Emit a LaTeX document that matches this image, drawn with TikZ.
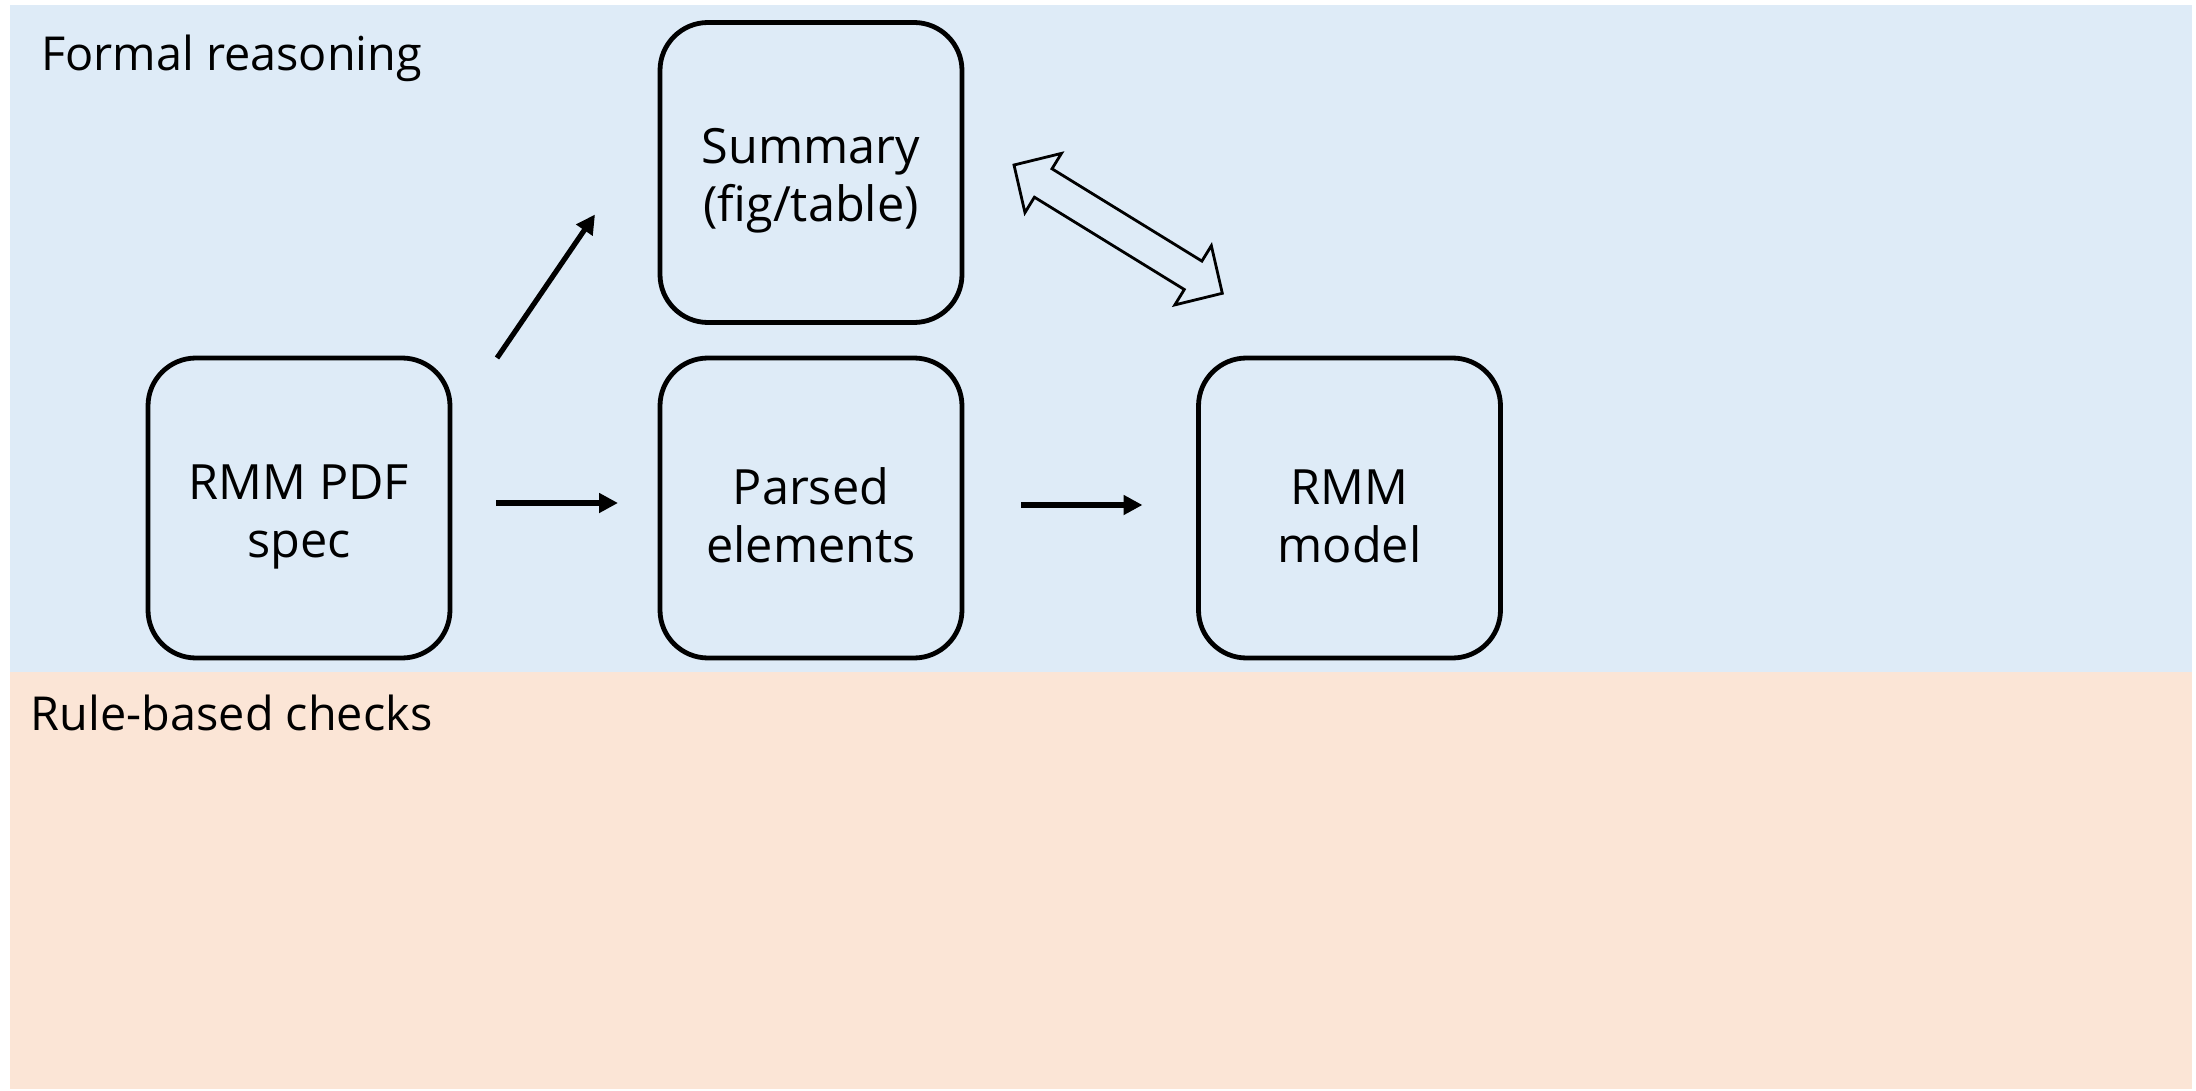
\documentclass[tikz,border=0pt]{standalone}
\usepackage{fontspec}
\setmainfont{Open Sans}
\usetikzlibrary{arrows.meta,calc}
\definecolor{formalbg}{HTML}{DEEBF7}
\definecolor{rulebg}{HTML}{FBE5D6}
\begin{document}
\begin{tikzpicture}[x=0.5pt,y=-0.5pt,
  stage/.style={draw=black, line width=2.4pt, rounded corners=24pt,
    minimum width=151pt, minimum height=150pt, align=center,
    font=\fontsize{24.3}{29}\selectfont, inner sep=0pt, outer sep=0pt,
    text height=55pt},
  flow/.style={line width=2.6pt, -{Triangle[length=9.5pt,width=9.5pt]}},
  lane/.style={anchor=base west, inner sep=0pt, outer sep=0pt,
    font=\fontsize{23.4}{29}\selectfont},
  blockarrow/.style={draw=black, line width=1.4pt, line join=miter}]
\useasboundingbox (0,0) rectangle (2196,1091);

% swim lanes
\fill[formalbg] (10,5) rectangle (2192,672);
\fill[rulebg] (10,672) rectangle (2192,1089);
\node[lane] (formal) at (41,71) {Formal reasoning};
\node[lane] (rules) at (31,730) {Rule-based checks};

% stages
\node[stage] (spec) at (299,508) {RMM PDF\\spec};
\node[stage] (summary) at (811,172.5) {Summary\\(fig/table)};
\node[stage] (parsed) at (811,508) {Parsed\\elements};
\node[stage] (model) at (1349.5,508) {RMM\\model};

% flows
\draw[flow] ($(spec.north east)+(47,0)$) -- ($(summary.south west)+(-65,-108)$);
\draw[flow] ($(spec.east)+(46,-5)$) -- ($(parsed.west)+(-42,-5)$);
\draw[flow] ($(parsed.east)+(59,-3)$) -- ($(model.west)+(-56,-3)$);

% two-way block arrow between summary and model
\draw[blockarrow] (1014,165) -- (1061.45,153.4) -- (1052.0,168.8)
  -- (1201.9,261.1) -- (1211.35,245.7) -- (1222.3,293.3)
  -- (1174.85,304.9) -- (1184.3,289.5) -- (1034.4,197.2)
  -- (1024.95,212.6) -- cycle;
\end{tikzpicture}
\end{document}
